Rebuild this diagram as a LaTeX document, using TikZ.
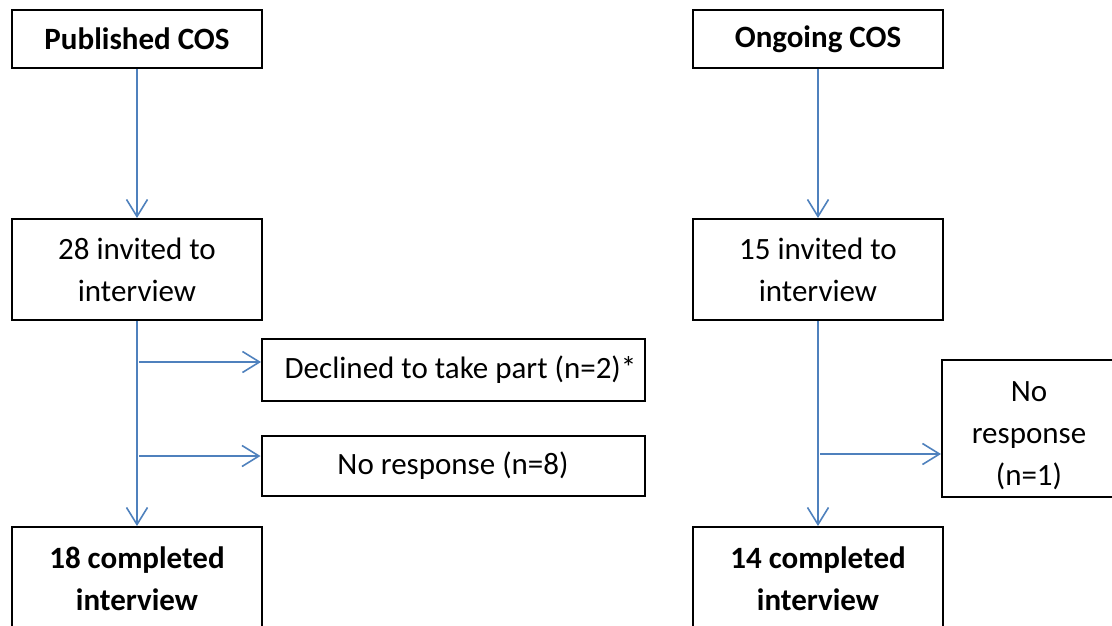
\documentclass[tikz,border=0pt]{standalone}
\usepackage{fontspec}
\setmainfont{Carlito}
\usetikzlibrary{arrows.meta}
\definecolor{linkblue}{RGB}{79,129,189}
\begin{document}
\begin{tikzpicture}[x=1pt,y=-1pt,
  box/.style={draw=black,line width=2pt,rectangle,inner sep=0pt,align=center,
    font=\fontsize{31}{42}\selectfont},
  boldbox/.style={box,font=\fontsize{31}{42}\selectfont\bfseries},
  flow/.style={draw=linkblue,line width=1.6pt,-{Straight Barb[length=17pt,width=21pt,line width=1.6pt]}},
  trunk/.style={draw=linkblue,line width=1.6pt}]
\useasboundingbox (0,0) rectangle (1112,626);
\clip (0,0) rectangle (1112,626);

% left column
\node[boldbox,minimum width=250pt,minimum height=58pt] (pub) at (137,39) {Published COS};
\node[box,minimum width=250pt,minimum height=101pt] (inv1) at (137,269.5) {28 invited to\\interview};
\node[box,minimum width=383pt,minimum height=62pt] (dec) at (453.5,370) {\hspace*{14pt}Declined to take part (n=2)*};
\node[box,minimum width=383pt,minimum height=60pt] (nr1) at (453,466) {No response (n=8)};
\node[boldbox,minimum width=250pt,minimum height=103pt] (done1) at (137,578.5) {18 completed\\interview};

\draw[flow] (pub) -- (inv1);
\draw[flow] (inv1) -- (done1);
\coordinate (j1) at (139,362);
\coordinate (j2) at (139,456);
\draw[flow] (j1) -- (j1 -| dec.west);
\draw[flow] (j2) -- (j2 -| nr1.west);

% right column
\node[boldbox,minimum width=250pt,minimum height=58pt] (ong) at (818,39) {Ongoing COS};
\node[box,minimum width=250pt,minimum height=101pt] (inv2) at (818,269.5) {15 invited to\\interview};
\node[box,minimum width=174pt,minimum height=137pt] (nr2) at (1029,428.5) {\rule{0pt}{34pt}No\\response\\(n=1)};
\node[boldbox,minimum width=250pt,minimum height=103pt] (done2) at (818,578.5) {14 completed\\interview};

\draw[flow] (ong) -- (inv2);
\draw[flow] (inv2) -- (done2);
\coordinate (j3) at (820,454);
\draw[flow] (j3) -- (j3 -| nr2.west);
\end{tikzpicture}
\end{document}
